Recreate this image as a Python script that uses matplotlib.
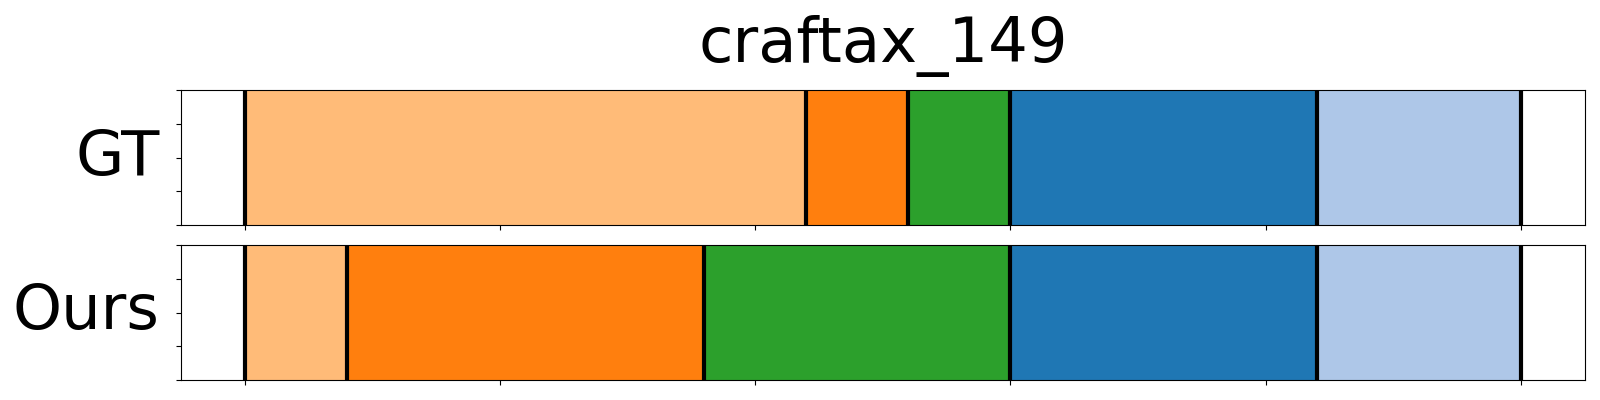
import matplotlib
matplotlib.use("Agg")
import matplotlib.pyplot as plt

# segment boundaries (time steps) and phase colours
title = "craftax_149"
row_labels = ["GT", "Ours"]
gt_bounds = [0, 44, 52, 60, 84, 100]
ours_bounds = [0, 8, 36, 60, 84, 100]
phase_colors = ["#ffbb78", "#ff7f0e", "#2ca02c", "#1f77b4", "#aec7e8"]
x_ticks = [0, 20, 40, 60, 80, 100]
y_ticks = [0, 0.25, 0.5, 0.75, 1.0]

fig = plt.figure(figsize=(16, 4), dpi=100)
ax_gt = fig.add_axes([0.113, 0.4375, 0.8775, 0.3375])
ax_ours = fig.add_axes([0.113, 0.05, 0.8775, 0.3375], sharex=ax_gt)

for ax, bounds, label in zip([ax_gt, ax_ours], [gt_bounds, ours_bounds], row_labels):
    for i in range(len(bounds) - 1):
        ax.axvspan(bounds[i], bounds[i + 1], color=phase_colors[i], lw=0)
    for b in bounds:
        ax.axvline(b, color="black", lw=3)
    ax.set_ylim(0, 1)
    ax.set_yticks(y_ticks)
    ax.set_xticks(x_ticks)
    ax.tick_params(labelleft=False, labelbottom=False)
    ax.set_ylabel(label, fontsize=45, rotation=0, ha="right", va="center")
    ax.yaxis.set_label_coords(-0.0152, 0.5)

ax_gt.set_title(title, fontsize=45, pad=20)

fig.savefig("out.png", dpi=100)
